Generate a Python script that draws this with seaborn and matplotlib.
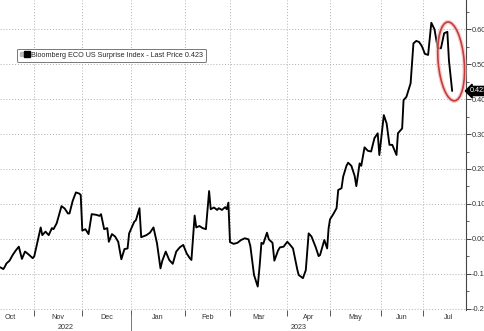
import numpy as np
import pandas as pd
import matplotlib
matplotlib.use("Agg")
import matplotlib.pyplot as plt
import matplotlib.dates as mdates
import matplotlib.transforms as mtransforms
import seaborn as sns
from matplotlib.lines import Line2D
from matplotlib.patches import Ellipse
from matplotlib.legend_handler import HandlerTuple
from matplotlib.ticker import FixedLocator, NullFormatter, FixedFormatter, MultipleLocator, FormatStrFormatter

# ---------------- data ----------------
dates = [
    "2022-10-10", "2022-10-12", "2022-10-13", "2022-10-14", "2022-10-16", "2022-10-18",
    "2022-10-20", "2022-10-22", "2022-10-24", "2022-10-26", "2022-10-28", "2022-10-31",
    "2022-11-01", "2022-11-03", "2022-11-05", "2022-11-06", "2022-11-08", "2022-11-10",
    "2022-11-12", "2022-11-13", "2022-11-15", "2022-11-18", "2022-11-20", "2022-11-22",
    "2022-11-23", "2022-11-25", "2022-11-27", "2022-11-29", "2022-11-30",
    "2022-12-01", "2022-12-03", "2022-12-05", "2022-12-07", "2022-12-10", "2022-12-12",
    "2022-12-13", "2022-12-15", "2022-12-17", "2022-12-18", "2022-12-20", "2022-12-22",
    "2022-12-24", "2022-12-26", "2022-12-28", "2022-12-30", "2022-12-31",
    "2023-01-03", "2023-01-04", "2023-01-06", "2023-01-07", "2023-01-10", "2023-01-12",
    "2023-01-14", "2023-01-16", "2023-01-18", "2023-01-19", "2023-01-21", "2023-01-23",
    "2023-01-25", "2023-01-27", "2023-01-29", "2023-01-31",
    "2023-02-02", "2023-02-04", "2023-02-05", "2023-02-07", "2023-02-08", "2023-02-10",
    "2023-02-12", "2023-02-14", "2023-02-16", "2023-02-17", "2023-02-19", "2023-02-21",
    "2023-02-22", "2023-02-24", "2023-02-26", "2023-02-27", "2023-02-28",
    "2023-03-01", "2023-03-03", "2023-03-05", "2023-03-07", "2023-03-09", "2023-03-11",
    "2023-03-12", "2023-03-14", "2023-03-16", "2023-03-17", "2023-03-18", "2023-03-19",
    "2023-03-21", "2023-03-22", "2023-03-24", "2023-03-25", "2023-03-27", "2023-03-28",
    "2023-03-30",
    "2023-04-01", "2023-04-03", "2023-04-05", "2023-04-08", "2023-04-09", "2023-04-12",
    "2023-04-14", "2023-04-16", "2023-04-18", "2023-04-21", "2023-04-23", "2023-04-24",
    "2023-04-27", "2023-04-29", "2023-04-30",
    "2023-05-01", "2023-05-03", "2023-05-05", "2023-05-06", "2023-05-08", "2023-05-09",
    "2023-05-11", "2023-05-12", "2023-05-14", "2023-05-16", "2023-05-17", "2023-05-19",
    "2023-05-20", "2023-05-22", "2023-05-24", "2023-05-26", "2023-05-28", "2023-05-30",
    "2023-05-31",
    "2023-06-03", "2023-06-05", "2023-06-07", "2023-06-09", "2023-06-12", "2023-06-13",
    "2023-06-16", "2023-06-17", "2023-06-19", "2023-06-22", "2023-06-24", "2023-06-26",
    "2023-06-28", "2023-06-30",
    "2023-07-02", "2023-07-04", "2023-07-06", "2023-07-08", "2023-07-10", "2023-07-12",
    "2023-07-14", "2023-07-16", "2023-07-17", "2023-07-19",
]
values = [
    -0.081, -0.086, -0.079, -0.070, -0.062, -0.046,
    -0.033, -0.022, -0.057, -0.036, -0.043, -0.055,
    -0.049, -0.008, 0.033, 0.011, 0.021, 0.011,
    0.031, 0.028, 0.045, 0.094, 0.087, 0.073,
    0.073, 0.109, 0.133, 0.130, 0.126,
    0.024, 0.028, 0.014, 0.071, 0.069, 0.066,
    0.071, 0.028, 0.031, -0.008, 0.014, 0.007,
    -0.008, -0.058, -0.029, -0.027, 0.016,
    0.049, 0.054, 0.088, 0.005, 0.011, 0.018,
    0.033, -0.012, -0.084, -0.063, -0.036, -0.060,
    -0.071, -0.036, -0.024, -0.017,
    -0.041, -0.055, -0.060, 0.067, 0.033, 0.037,
    0.031, 0.028, 0.137, 0.085, 0.090, 0.083,
    0.088, 0.083, 0.091, 0.085, 0.104,
    -0.009, -0.014, -0.011, -0.003, 0.002, -0.001,
    -0.020, -0.103, -0.136, -0.079, -0.011, -0.014,
    0.018, -0.001, -0.011, -0.062, -0.033, -0.024,
    -0.022,
    -0.008, -0.017, -0.027, -0.087, -0.103, -0.112,
    -0.089, 0.016, 0.007, -0.024, -0.049, -0.046,
    -0.003, -0.027, 0.030,
    0.056, 0.071, 0.088, 0.140, 0.145, 0.178,
    0.209, 0.218, 0.209, 0.180, 0.151, 0.216,
    0.209, 0.262, 0.252, 0.250, 0.288, 0.302,
    0.240,
    0.354, 0.330, 0.269, 0.269, 0.240, 0.302,
    0.316, 0.397, 0.406, 0.445, 0.559, 0.566,
    0.563, 0.551,
    0.529, 0.526, 0.618, 0.599, 0.545, 0.545,
    0.588, 0.592, 0.510, 0.423,
]
series_label = "Bloomberg ECO US Surprise Index - Last Price 0.423"
month_labels = ["Oct", "Nov", "Dec", "Jan", "Feb", "Mar", "Apr", "May", "Jun", "Jul"]
year_labels = ["2022", "2023"]

# ---------------- axis layout (Bloomberg-style compressed time axis) ----------------
axis_month_starts = pd.date_range("2022-10-01", "2023-08-01", freq="MS")
axis_month_pos = [-13.7, 34.3, 82.3, 130.7, 185.0, 230.0, 287.3, 330.0, 381.0, 423.3, 473.0]
AX_W = 466.0

sns.set_style("white")
plt.rcParams["font.family"] = ["Liberation Sans", "DejaVu Sans"]
plt.rcParams["axes.unicode_minus"] = False

df = pd.DataFrame({"date": pd.to_datetime(dates), "value": values})

fig = plt.figure(figsize=(4.85, 3.31), dpi=100)
ax = fig.add_axes([0, 21 / 331, AX_W / 485, 310 / 331])

sns.lineplot(data=df, x="date", y="value", ax=ax, color="black",
             linewidth=1.35, legend=False, zorder=3)

knot_num = mdates.date2num(axis_month_starts.to_pydatetime())
knot_pos = np.asarray(axis_month_pos)


def fwd(x):
    return np.interp(x, knot_num, knot_pos)


def inv(p):
    return np.interp(p, knot_pos, knot_num)


ax.set_xscale("function", functions=(fwd, inv))
ax.set_xlim(inv(0.0), inv(AX_W))
ax.set_ylim(-0.203, 0.683)

# x ticks: month boundaries (major, gridded), month names centred (minor)
ax.xaxis.set_major_locator(FixedLocator(knot_num[1:10]))
ax.xaxis.set_major_formatter(NullFormatter())
mid_pos = (knot_pos[:-1] + knot_pos[1:]) / 2
ax.xaxis.set_minor_locator(FixedLocator(inv(mid_pos)))
ax.xaxis.set_minor_formatter(FixedFormatter(month_labels))
ax.tick_params(axis="x", which="major", direction="out", length=4, width=0.7,
               color="#555555", bottom=True)
ax.tick_params(axis="x", which="minor", length=0, labelsize=5.2, pad=3,
               labelcolor="#333333")

# y ticks on the right
ax.yaxis.tick_right()
ax.yaxis.set_major_locator(MultipleLocator(0.1))
ax.yaxis.set_minor_locator(MultipleLocator(0.05))
ax.yaxis.set_major_formatter(FormatStrFormatter("%.3f"))
ax.tick_params(axis="y", which="major", direction="out", length=3.5, width=0.7,
               color="#444444", labelsize=5.3, pad=0.8, labelcolor="#333333",
               right=True, left=False)
ax.tick_params(axis="y", which="minor", direction="out", length=2, width=0.6,
               color="#444444", right=True, left=False)
ax.set_xlabel("")
ax.set_ylabel("")

ax.grid(True, which="major", axis="both", linestyle=(0, (1, 2)),
        color="#b0b0b0", linewidth=0.7)

for s in ["left", "top", "bottom"]:
    ax.spines[s].set_visible(False)
ax.spines["right"].set_color("#444444")
ax.spines["right"].set_linewidth(0.8)

# year labels and 2022/2023 separator
xt = ax.get_xaxis_transform()
jan1 = knot_num[3]
ax.text(inv((0.0 + knot_pos[3]) / 2), -0.055, year_labels[0], transform=xt,
        ha="center", va="center", fontsize=5.2, color="#333333")
ax.text(inv((knot_pos[3] + AX_W) / 2), -0.055, year_labels[1], transform=xt,
        ha="center", va="center", fontsize=5.2, color="#333333")
ax.plot([jan1, jan1], [-0.012, -0.075], transform=xt, color="#777777",
        linewidth=0.7, clip_on=False)

# legend
h_gray = Line2D([], [], marker="s", color="#bbbbbb", markersize=2.5, linestyle="none")
h_black = Line2D([], [], marker="s", color="black", markersize=4.2, linestyle="none")
leg = ax.legend(handles=[(h_gray, h_black)], labels=[series_label],
                handler_map={tuple: HandlerTuple(ndivide=None, pad=0.15)},
                loc="upper left", bbox_to_anchor=(17 / AX_W, 1 - 49 / 310),
                fontsize=5.2, frameon=True, fancybox=True, framealpha=1,
                edgecolor="#777777", handlelength=1.3, handletextpad=0.3,
                borderpad=0.4, borderaxespad=0)
leg.get_frame().set_linewidth(0.7)

# last-price tag
ax.annotate(f"{values[-1]:.3f}", xy=(1, values[-1]), xycoords=ax.get_yaxis_transform(),
            xytext=(3.0, 0), textcoords="offset points", ha="left", va="center",
            fontsize=5.2, color="white", annotation_clip=False, zorder=10,
            bbox=dict(boxstyle="larrow,pad=0.15", fc="black", ec="black"))

# red ellipse around the latest drop
tail = df.tail(5)
pts = ax.transData.transform(np.column_stack([mdates.date2num(tail["date"].dt.to_pydatetime()),
                                              tail["value"].to_numpy()]))
top_y = pts[:, 1].max()
bot_y = pts[-1, 1]
cx = pts[-1, 0] - 1
cy = (top_y + bot_y) / 2
eh = (top_y - bot_y) + 20
for lw, col, a in [(3.0, "#f2b8b8", 0.7), (1.2, "#c43c3c", 1.0)]:
    e = Ellipse((cx, cy), width=26, height=eh, angle=5, fill=False,
                edgecolor=col, linewidth=lw, alpha=a,
                transform=mtransforms.IdentityTransform(), clip_on=False, zorder=8)
    fig.add_artist(e)

fig.savefig("out.png", dpi=100)
